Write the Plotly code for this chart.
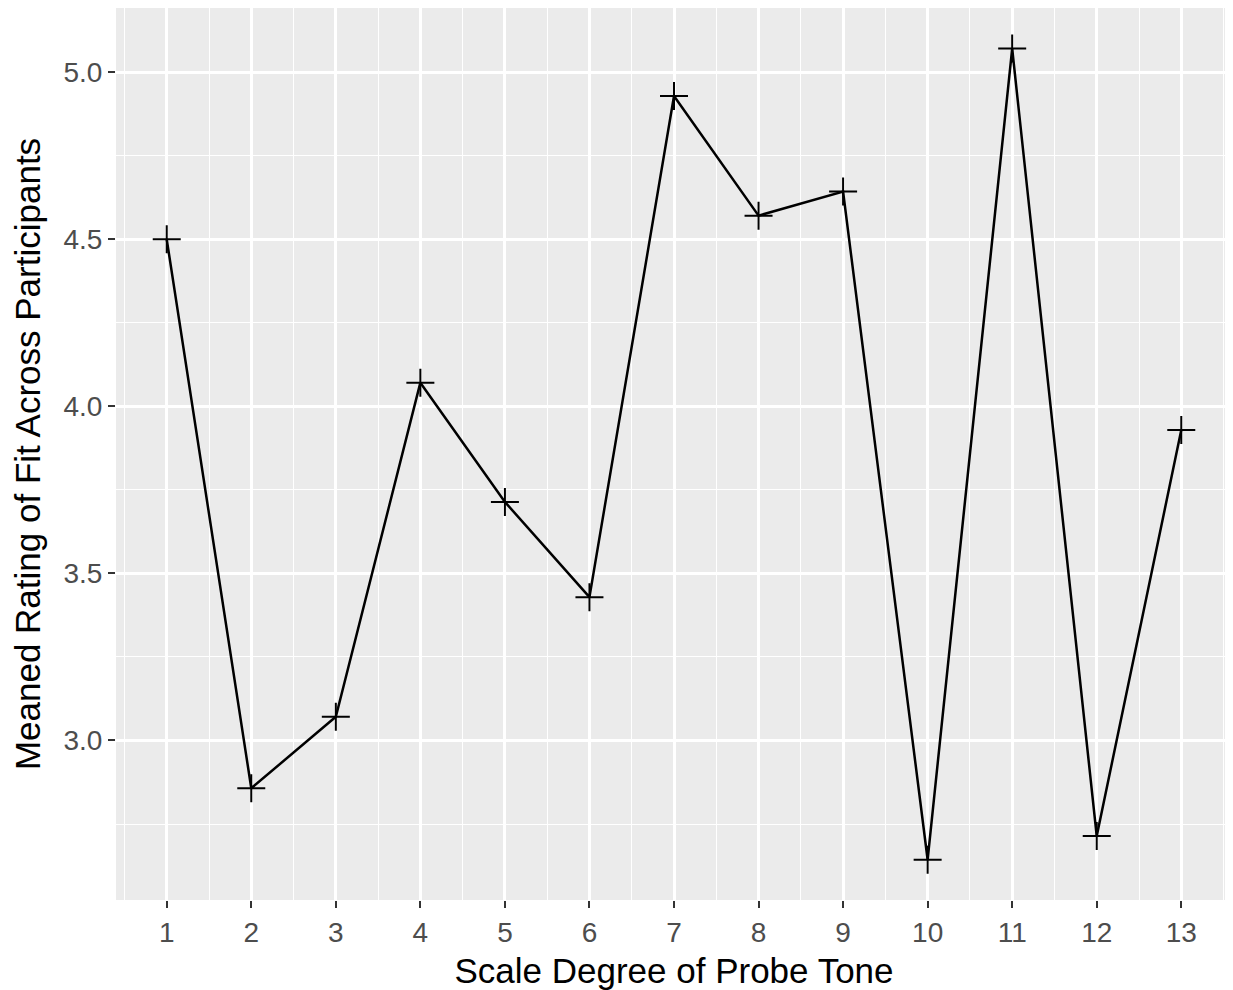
import plotly.graph_objects as go

scale_degree = [1, 2, 3, 4, 5, 6, 7, 8, 9, 10, 11, 12, 13]
mean_rating = [4.500, 2.857, 3.071, 4.071, 3.714, 3.429, 4.929, 4.571, 4.643,
               2.643, 5.071, 2.714, 3.929]
x_tick_labels = [str(v) for v in scale_degree]
y_tick_vals = [3.0, 3.5, 4.0, 4.5, 5.0]

fig = go.Figure()
fig.add_trace(go.Scatter(
    x=scale_degree, y=mean_rating, mode="lines+markers",
    line=dict(color="black", width=2.5),
    marker=dict(symbol="cross-thin", size=20, color="black",
                line=dict(color="black", width=2)),
    showlegend=False,
))

font_family = "Liberation Sans, Arial, sans-serif"
fig.update_layout(
    width=1225, height=982,
    margin=dict(l=108, r=1, t=0, b=90),
    paper_bgcolor="white", plot_bgcolor="#EBEBEB",
    font=dict(family=font_family),
    xaxis=dict(
        range=[0.4, 13.6], tickmode="array", tickvals=scale_degree,
        ticktext=x_tick_labels, ticks="outside", ticklen=7, tickwidth=2,
        tickcolor="#333333", tickfont=dict(size=28, color="#4D4D4D"),
        showgrid=True, gridcolor="white", gridwidth=2.5, zeroline=False,
        showline=False, automargin=False,
        minor=dict(tick0=0.5, dtick=1, showgrid=True, gridcolor="white",
                   gridwidth=1.2, ticks=""),
        title=dict(text="Scale Degree of Probe Tone",
                   font=dict(size=35, color="black"), standoff=14),
    ),
    yaxis=dict(
        range=[2.5225, 5.1925], tickmode="array", tickvals=y_tick_vals,
        ticktext=[f"{v:.1f}" for v in y_tick_vals], ticks="outside",
        ticklen=7, tickwidth=2, tickcolor="#333333",
        tickfont=dict(size=28, color="#4D4D4D"),
        showgrid=True, gridcolor="white", gridwidth=2.5, zeroline=False,
        showline=False, automargin=False,
        minor=dict(tick0=2.75, dtick=0.5, showgrid=True, gridcolor="white",
                   gridwidth=1.2, ticks=""),
        title=dict(text="Meaned Rating of Fit Across Participants",
                   font=dict(size=35, color="black"), standoff=12),
    ),
)

fig.write_html("out.html")
